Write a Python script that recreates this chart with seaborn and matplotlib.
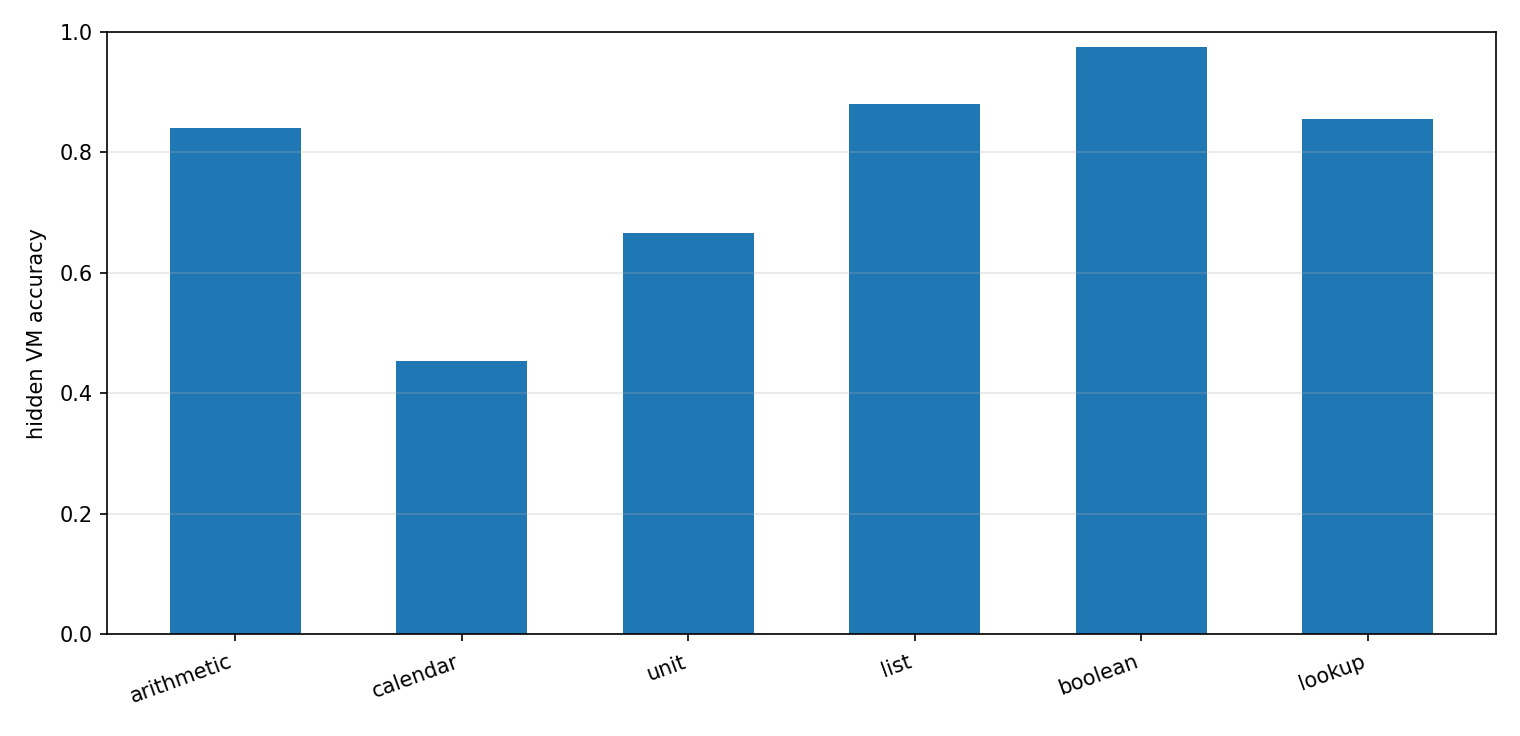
import seaborn as sns
import pandas as pd
import matplotlib
matplotlib.use("Agg")
import matplotlib.pyplot as plt

# data
categories = ["arithmetic", "calendar", "unit", "list", "boolean", "lookup"]
accuracy = [0.841, 0.454, 0.666, 0.880, 0.975, 0.855]

df = pd.DataFrame({"category": categories, "accuracy": accuracy})

fig, ax = plt.subplots(figsize=(1520 / 150, 736 / 150), dpi=150)
fig.subplots_adjust(left=0.0704, right=0.9842, top=0.9565, bottom=0.1386)

sns.barplot(data=df, x="category", y="accuracy", color="#1f77b4",
            saturation=1, width=0.58, ax=ax)

ax.set_xlim(-0.566, 5.566)
ax.set_ylim(0, 1.0)
ax.set_xlabel("")
ax.set_ylabel("hidden VM accuracy", labelpad=6)
ax.grid(axis="y", alpha=0.3)
for side in ["top", "right", "left", "bottom"]:
    ax.spines[side].set_visible(True)
ax.tick_params(axis="x", pad=5)
plt.setp(ax.get_xticklabels(), rotation=20, ha="right")

fig.savefig("out.png", dpi=150)
